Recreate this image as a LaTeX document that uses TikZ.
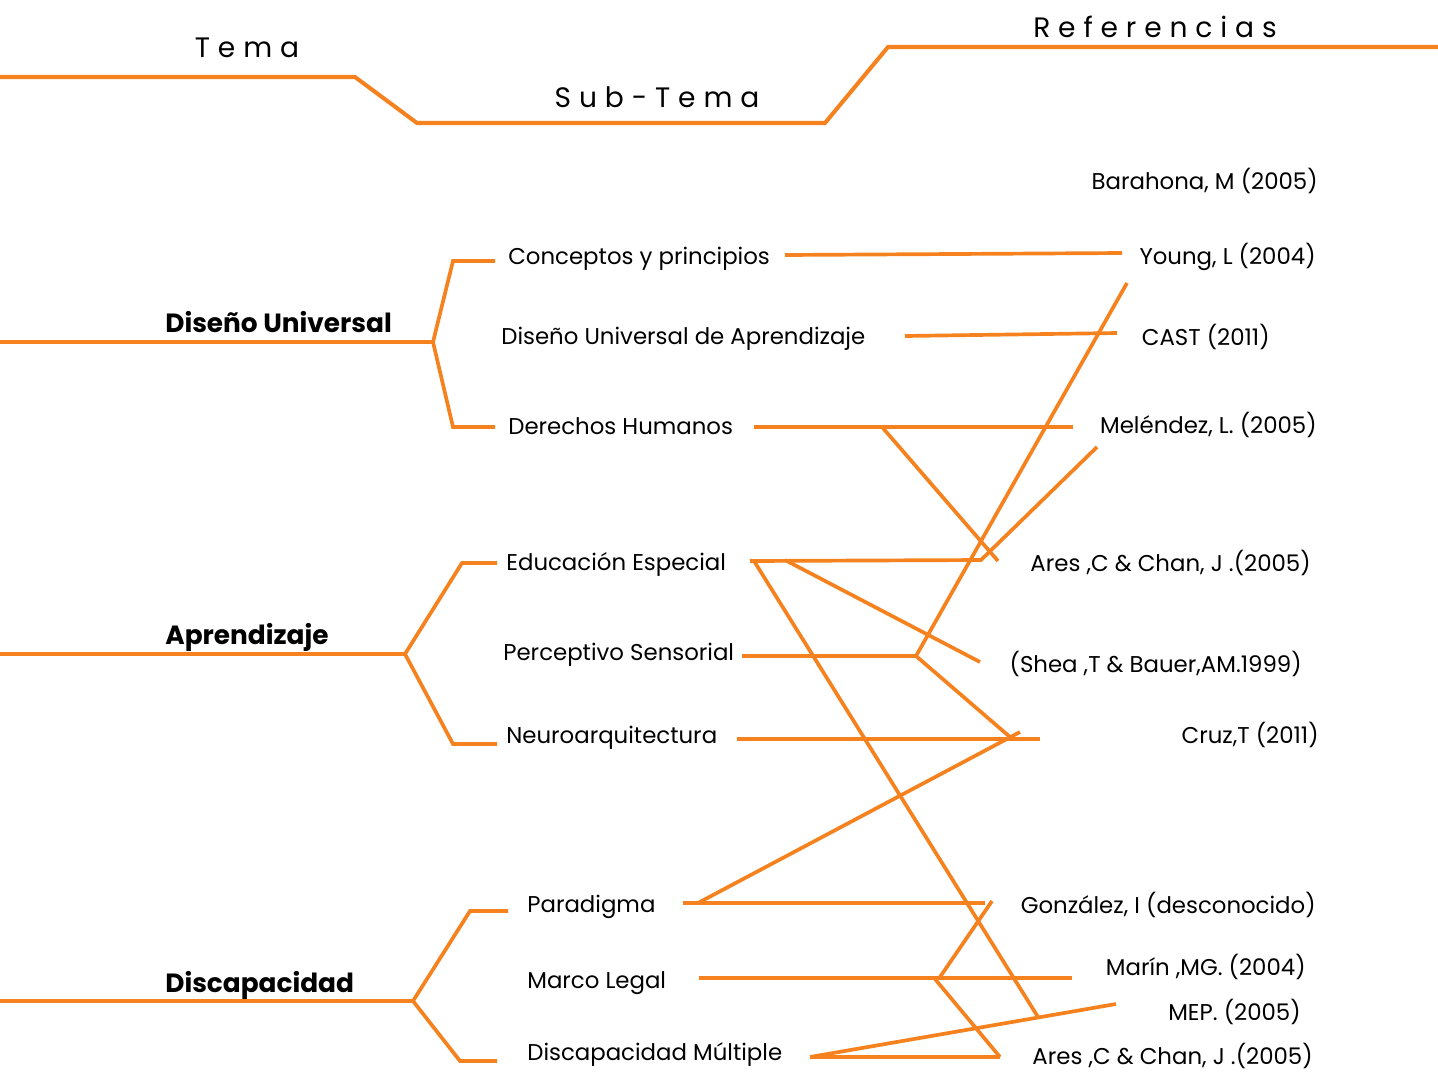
\documentclass[tikz,border=0pt]{standalone}
\usepackage{fontspec}
\setmainfont{Poppins}
\usetikzlibrary{calc}
\definecolor{naranja}{HTML}{F5821F}
\tikzset{
	linea/.style={line width=2.1pt, color=naranja},
	tema/.style={font=\bfseries\fontsize{15}{15}\selectfont, anchor=west, inner sep=0pt},
	subtema/.style={font=\fontsize{13}{13}\selectfont, anchor=west, inner sep=0pt},
	refer/.style={font=\fontsize{13}{13}\selectfont, anchor=east, inner sep=0pt},
	titulo/.style={font=\fontsize{16}{16}\selectfont\addfontfeature{LetterSpace=28}, inner sep=0pt}
}

\begin{document}
\begin{tikzpicture}[x=0.02cm, y=-0.02cm]
			%%%%% START %%%%%
			\useasboundingbox (0, 0) rectangle (1438, 1073);
			
			% cabecera
			\draw[linea, line width=2.3pt] (0, 77) -- (355, 77) -- (417, 123) -- (825, 123) -- (888, 47) -- (1438, 47);
			\node[titulo] (tit-tema) at (247, 48) {Tema};
			\node[titulo] (tit-sub) at (657, 97) {Sub-Tema};
			\node[titulo] (tit-ref) at (1155, 27) {Referencias};
			
			% temas
			\node[tema] (du) at (165, 322) {Diseño Universal};
			\node[tema] (apr) at (165, 637) {Aprendizaje};
			\node[tema] (disc) at (165, 985) {Discapacidad};
			
			\coordinate (du-j) at (433, 342);
			\coordinate (apr-j) at (405, 654);
			\coordinate (disc-j) at (413, 1001);
			
			\draw[linea] (0, 342) -- (du-j);
			\draw[linea] (495, 261) -- (453, 261) -- (du-j) -- (453, 427) -- (495, 427);
			\draw[linea] (0, 654) -- (apr-j);
			\draw[linea] (497, 563) -- (462, 563) -- (apr-j) -- (453, 744) -- (497, 744);
			\draw[linea] (0, 1001) -- (disc-j);
			\draw[linea] (508, 911) -- (470, 911) -- (disc-j) -- (460, 1061) -- (497, 1061);
			
			% sub-temas
			\node[subtema] (conc) at (508, 259) {Conceptos y principios};
			\node[subtema] (dua) at (501, 339) {Diseño Universal de Aprendizaje};
			\node[subtema] (dh) at (508, 426) {Derechos Humanos};
			\node[subtema] (ee) at (506, 564) {Educación Especial};
			\node[subtema] (ps) at (503, 655) {Perceptivo Sensorial};
			\node[subtema] (neuro) at (506, 738) {Neuroarquitectura};
			\node[subtema] (para) at (527, 907) {Paradigma};
			\node[subtema] (ml) at (527, 983) {Marco Legal};
			\node[subtema] (dm) at (527, 1055) {Discapacidad Múltiple};
			
			% referencias
			\node[refer] (barahona) at (1318, 181) {Barahona, M (2005)};
			\node[refer] (young) at (1316, 257) {Young, L (2004)};
			\node[refer] (cast) at (1270, 337) {CAST (2011)};
			\node[refer] (melendez) at (1317, 425) {Meléndez, L. (2005)};
			\node[refer] (ares) at (1311, 563) {Ares ,C \& Chan, J .(2005)};
			\node[refer] (shea) at (1302, 664) {(Shea ,T \& Bauer,AM.1999)};
			\node[refer] (cruz) at (1319, 735) {Cruz,T (2011)};
			\node[refer] (gonzalez) at (1316, 905) {González, I (desconocido)};
			\node[refer] (marin) at (1306, 967) {Marín ,MG. (2004)};
			\node[refer] (mep) at (1301, 1012) {MEP. (2005)};
			\node[refer] (ares2) at (1313, 1056) {Ares ,C \& Chan, J .(2005)};
			
			% puntos de union
			\coordinate (conc-a) at (785, 255);
			\coordinate (young-a) at (1122, 253);
			\coordinate (young-b) at (1127, 283);
			\coordinate (dua-a) at (905, 336);
			\coordinate (cast-a) at (1117, 333);
			\coordinate (dh-a) at (754, 427);
			\coordinate (dh-b) at (882, 427);
			\coordinate (mel-a) at (1073, 427);
			\coordinate (mel-b) at (1097, 447);
			\coordinate (ee-a) at (750, 561);
			\coordinate (ee-b) at (785, 560);
			\coordinate (ee-c) at (754, 561);
			\coordinate (ares-a) at (981, 560);
			\coordinate (ares-b) at (998, 561);
			\coordinate (shea-a) at (980, 662);
			\coordinate (ps-a) at (742, 656);
			\coordinate (ps-b) at (916, 656);
			\coordinate (cruz-a) at (1010, 737);
			\coordinate (cruz-b) at (1020, 732);
			\coordinate (neuro-a) at (737, 739);
			\coordinate (neuro-b) at (1040, 739);
			\coordinate (para-a) at (683, 903);
			\coordinate (para-b) at (698, 903);
			\coordinate (gonz-a) at (985, 903);
			\coordinate (gonz-b) at (992, 901);
			\coordinate (ml-a) at (699, 978);
			\coordinate (ml-b) at (940, 977);
			\coordinate (ml-c) at (935, 979);
			\coordinate (marin-a) at (1072, 978);
			\coordinate (mep-a) at (1116, 1004);
			\coordinate (mep-b) at (1038, 1017);
			\coordinate (dm-a) at (810, 1057);
			\coordinate (ares2-a) at (1000, 1057);
			
			% conectores
			\draw[linea] (conc-a) -- (young-a);
			\draw[linea] (dua-a) -- (cast-a);
			\draw[linea] (dh-a) -- (mel-a);
			\draw[linea] (dh-b) -- (ares-b);
			\draw[linea] (ee-a) -- (ares-a) -- (mel-b);
			\draw[linea] (ee-b) -- (shea-a);
			\draw[linea] (ee-c) -- (mep-b);
			\draw[linea] (ps-a) -- (ps-b);
			\draw[linea] (ps-b) -- (young-b);
			\draw[linea] (ps-b) -- (cruz-a);
			\draw[linea] (neuro-a) -- (neuro-b);
			\draw[linea] (para-a) -- (gonz-a);
			\draw[linea] (para-b) -- (cruz-b);
			\draw[linea] (ml-a) -- (marin-a);
			\draw[linea] (ml-b) -- (gonz-b);
			\draw[linea] (ml-c) -- (ares2-a);
			\draw[linea] (dm-a) -- (ares2-a);
			\draw[linea] (dm-a) -- (mep-a);
			
			%%%%% END %%%%%
\end{tikzpicture}
\end{document}
